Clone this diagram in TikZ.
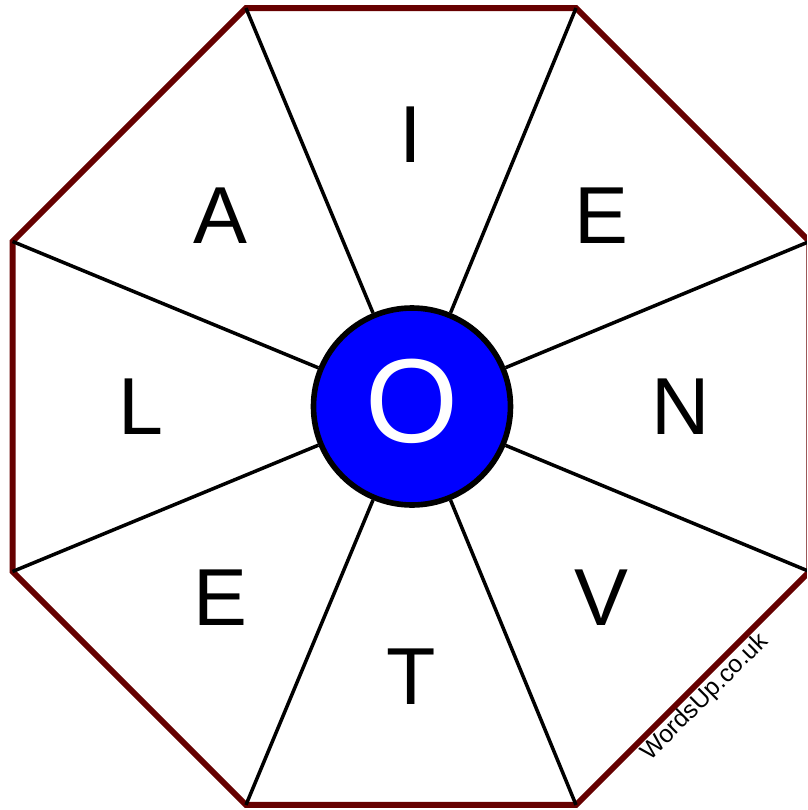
\documentclass[tikz,border=0pt]{standalone}
\usepackage{fontspec}
\setmainfont{Liberation Sans}
\definecolor{rimred}{RGB}{102,0,0}
\tikzset{
  rim/.style={draw=rimred, line width=1.7pt, line join=miter},
  spoke/.style={draw=black, line width=1pt},
  hub/.style={circle, draw=black, line width=1.6pt, fill=blue, minimum size=1.97cm, inner sep=0pt},
  letter/.style={font=\fontsize{23}{23}\selectfont, inner sep=0pt},
  bigletter/.style={font=\fontsize{34}{34}\selectfont, inner sep=0pt, text=white},
  stamp/.style={font=\fontsize{7}{7}\selectfont, inner sep=0pt, rotate=45}
}
\begin{document}
\begin{tikzpicture}
    \useasboundingbox (-4.11,-4.035) rectangle (3.96,4.065);
    \clip (-4.11,-4.035) rectangle (3.96,4.065);

    % ecken vom achteck
    \foreach \i in {0,...,7}
        \coordinate (v\i) at (22.5+45*\i:4.313);

    % rand
    \draw[rim] (v0) -- (v1) -- (v2) -- (v3) -- (v4) -- (v5) -- (v6) -- (v7) -- cycle;

    % mitte
    \node[hub] (hub) at (0.01,0) {};
    \node[bigletter] (o) at (0.01,0.05) {O};

    % speichen
    \foreach \i in {0,...,7}
        \draw[spoke] (hub) -- (v\i);

    % buchstaben
    \node[letter] (l1) at (90:2.72) {I};
    \node[letter] (l2) at (45:2.70) {E};
    \node[letter] (l3) at (0:2.70) {N};
    \node[letter] (l4) at (-45:2.70) {V};
    \node[letter] (l5) at (-90:2.70) {T};
    \node[letter] (l6) at (-135:2.70) {E};
    \node[letter] (l7) at (180:2.70) {L};
    \node[letter] (l8) at (135:2.70) {A};

    \node[stamp] (site) at (2.94,-2.91) {WordsUp.co.uk};
\end{tikzpicture}
\end{document}
